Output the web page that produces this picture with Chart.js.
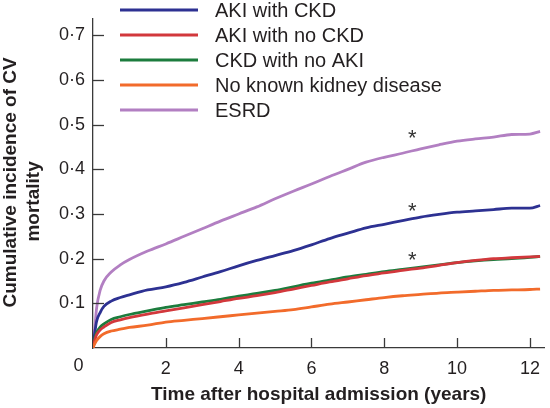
<!DOCTYPE html>
<html>
<head>
<meta charset="utf-8">
<script src="https://cdn.jsdelivr.net/npm/chart.js@4/dist/chart.umd.min.js"></script>
<style>
  html, body { margin: 0; padding: 0; background: #fff; }
  #wrap { width: 550px; height: 408px; position: relative; }
</style>
</head>
<body>
<div id="wrap"><canvas id="c" width="550" height="408"></canvas></div>
<script>
// ---- data ----
const times = [0, 0.05, 0.1, 0.2, 0.3, 0.5, 0.75, 1, 1.5, 2, 2.5, 3, 3.5, 4, 4.5, 5, 5.5, 6, 6.5, 7, 7.5, 8, 8.5, 9, 9.5, 10, 10.5, 11, 11.5, 12, 12.28];
const akiWithCkd  = [0, 0.035, 0.06, 0.08, 0.093, 0.105, 0.113, 0.119, 0.13, 0.137, 0.147, 0.159, 0.171, 0.184, 0.196, 0.207, 0.218, 0.231, 0.245, 0.257, 0.269, 0.277, 0.285, 0.293, 0.299, 0.304, 0.307, 0.31, 0.313, 0.313, 0.319];
const akiNoCkd    = [0, 0.018, 0.03, 0.041, 0.047, 0.057, 0.063, 0.068, 0.076, 0.083, 0.09, 0.097, 0.104, 0.111, 0.117, 0.124, 0.132, 0.14, 0.148, 0.155, 0.162, 0.168, 0.174, 0.179, 0.185, 0.191, 0.196, 0.2, 0.202, 0.204, 0.205];
const ckdNoAki    = [0, 0.022, 0.035, 0.047, 0.054, 0.064, 0.07, 0.075, 0.083, 0.091, 0.097, 0.103, 0.109, 0.116, 0.122, 0.129, 0.137, 0.145, 0.152, 0.159, 0.165, 0.171, 0.176, 0.181, 0.186, 0.191, 0.195, 0.198, 0.2, 0.203, 0.205];
const noKidney    = [0, 0.01, 0.017, 0.026, 0.032, 0.038, 0.042, 0.046, 0.051, 0.058, 0.062, 0.066, 0.07, 0.074, 0.078, 0.082, 0.086, 0.092, 0.098, 0.103, 0.108, 0.113, 0.117, 0.12, 0.123, 0.125, 0.127, 0.129, 0.13, 0.131, 0.132];
const esrd        = [0, 0.045, 0.09, 0.13, 0.15, 0.17, 0.186, 0.198, 0.217, 0.233, 0.25, 0.267, 0.284, 0.3, 0.316, 0.334, 0.351, 0.367, 0.384, 0.4, 0.416, 0.427, 0.436, 0.446, 0.455, 0.463, 0.468, 0.472, 0.478, 0.479, 0.485];

const seriesLabels = ['AKI with CKD', 'AKI with no CKD', 'CKD with no AKI', 'No known kidney disease', 'ESRD'];
const seriesColors = ['#2d3192', '#d2383c', '#1c7c3d', '#f26b2b', '#b27fc2'];

const xTicks = [2, 4, 6, 8, 10, 12];
const xTickLabels = ['2', '4', '6', '8', '10', '12'];
const yTicks = [0.1, 0.2, 0.3, 0.4, 0.5, 0.6, 0.7];
const yTickLabels = ['0·1', '0·2', '0·3', '0·4', '0·5', '0·6', '0·7'];
const originLabel = '0';

const starX = [8.77, 8.77, 8.77];
const starY = [0.466, 0.303, 0.193];
const starText = '*';

const xTitle = 'Time after hospital admission (years)';
const yTitle = ['Cumulative incidence of CV', 'mortality'];

// ---- chart ----
const FONT = '"Liberation Sans", Arial, Helvetica, sans-serif';
const TXT = '#231f20';
const AXIS = '#3a3a3a';

const values = [akiWithCkd, akiNoCkd, ckdNoAki, noKidney, esrd];
const drawOrder = [3, 1, 2, 0, 4];
const datasets = drawOrder.map(i => ({
  label: seriesLabels[i],
  data: times.map((t, k) => ({ x: t, y: values[i][k] })),
  borderColor: seriesColors[i],
  backgroundColor: seriesColors[i],
  borderWidth: 2.8,
  pointRadius: 0,
  cubicInterpolationMode: 'monotone',
  fill: false
}));

const decorPlugin = {
  id: 'decor',
  afterDraw(chart) {
    const ctx = chart.ctx;
    const xs = chart.scales.x, ys = chart.scales.y;
    const ca = chart.chartArea;
    ctx.save();
    // inward ticks
    ctx.strokeStyle = AXIS;
    ctx.lineWidth = 1.3;
    xs.ticks.forEach(t => {
      const px = Math.round(xs.getPixelForValue(t.value)) + 0.5;
      ctx.beginPath(); ctx.moveTo(px, ca.bottom); ctx.lineTo(px, ca.bottom - 10); ctx.stroke();
    });
    ys.ticks.forEach(t => {
      const py = Math.round(ys.getPixelForValue(t.value)) + 0.5;
      ctx.beginPath(); ctx.moveTo(ca.left, py); ctx.lineTo(ca.left + 11, py); ctx.stroke();
    });
    // origin label
    ctx.fillStyle = TXT;
    ctx.font = '18px ' + FONT;
    ctx.textAlign = 'center';
    ctx.textBaseline = 'middle';
    ctx.fillText(originLabel, ca.left - 14.5, ca.bottom + 18);
    // y axis title (two lines, rotated)
    ctx.font = 'bold 19px ' + FONT;
    const yMid = (ca.top + ca.bottom) / 2;
    [[11, yMid - 1], [34, yMid + 18]].forEach((p, i) => {
      ctx.save();
      ctx.translate(p[0], p[1]);
      ctx.rotate(-Math.PI / 2);
      ctx.fillText(yTitle[i], 0, 0);
      ctx.restore();
    });
    // asterisks
    ctx.fillStyle = '#333';
    ctx.font = '22px ' + FONT;
    ctx.textBaseline = 'alphabetic';
    starX.forEach((sx, i) => {
      ctx.fillText(starText, xs.getPixelForValue(sx), ys.getPixelForValue(starY[i]) + 5);
    });
    // legend
    ctx.textAlign = 'left';
    ctx.textBaseline = 'middle';
    ctx.font = '20px ' + FONT;
    seriesLabels.forEach((lab, i) => {
      const y = 10 + i * 25;
      ctx.strokeStyle = seriesColors[i];
      ctx.lineWidth = 3;
      ctx.beginPath(); ctx.moveTo(120, y); ctx.lineTo(198, y); ctx.stroke();
      ctx.fillStyle = TXT;
      ctx.fillText(lab, 215, y + 1);
    });
    ctx.restore();
  }
};

new Chart(document.getElementById('c'), {
  type: 'line',
  data: { datasets },
  options: {
    responsive: false,
    animation: false,
    layout: { padding: { top: 7, right: 3, left: 0, bottom: 0 } },
    plugins: { legend: { display: false }, tooltip: { enabled: false } },
    scales: {
      x: {
        type: 'linear',
        min: 0, max: 12.4,
        afterBuildTicks: s => { s.ticks = xTicks.map(v => ({ value: v })); },
        afterFit: s => { s.height = 60; },
        ticks: {
          callback: (v, i) => xTickLabels[i],
          font: { family: FONT, size: 18 },
          color: TXT,
          padding: 10,
          maxRotation: 0,
          autoSkip: false
        },
        grid: { display: false, drawTicks: false },
        border: { display: true, color: AXIS, width: 1.3 },
        title: {
          display: true,
          text: xTitle,
          font: { family: FONT, size: 19, weight: 'bold' },
          color: TXT,
          padding: { top: 0, bottom: 2 }
        }
      },
      y: {
        type: 'linear',
        min: 0, max: 0.737,
        afterBuildTicks: s => { s.ticks = yTicks.map(v => ({ value: v })); },
        afterFit: s => { s.width = 93; },
        ticks: {
          callback: (v, i) => yTickLabels[i],
          font: { family: FONT, size: 18 },
          color: TXT,
          padding: 8,
          autoSkip: false
        },
        grid: { display: false, drawTicks: false },
        border: { display: true, color: AXIS, width: 1.3 },
        title: { display: false }
      }
    }
  },
  plugins: [decorPlugin]
});
</script>
</body>
</html>
